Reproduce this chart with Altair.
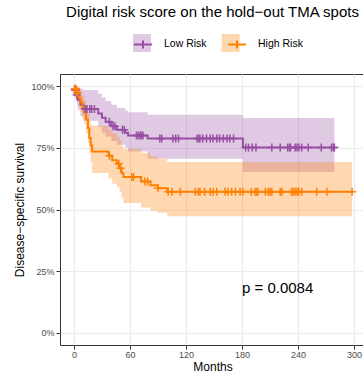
import altair as alt
import pandas as pd

# Kaplan-Meier estimates per risk group: step times (months), survival, CI bounds
GROUPS = ["Low Risk", "High Risk"]
LINE_COLORS = ["#984EA3", "#FF7F00"]

LOW_T = [0, 1, 3, 4, 7, 10, 26, 30, 34, 40, 46, 55, 58, 79, 181]
LOW_S = [1.0, 0.985, 0.965, 0.944, 0.925, 0.908, 0.89, 0.872, 0.856, 0.838, 0.824, 0.812, 0.80, 0.788, 0.752]
LOW_UP = [1.0, 1.0, 1.0, 0.995, 0.99, 0.985, 0.97, 0.955, 0.94, 0.925, 0.912, 0.902, 0.895, 0.885, 0.871]
LOW_LO = [1.0, 0.955, 0.93, 0.905, 0.88, 0.86, 0.835, 0.812, 0.795, 0.778, 0.763, 0.75, 0.735, 0.706, 0.652]
LOW_END = 279
LOW_CENSOR = [1, 2, 3, 12, 14, 17, 19, 22, 38, 42, 44, 52, 54, 67, 69, 71, 72, 74,
              92, 94, 106, 109, 112, 132, 134, 135, 138, 142, 146, 149, 153, 156,
              160, 164, 167, 171, 184, 187, 191, 195, 212, 221, 229, 231, 232, 237,
              239, 241, 244, 251, 265, 276, 278, 279]

HIGH_T = [0, 1, 3, 5, 7, 9, 11, 13, 15, 16.5, 18, 19.5, 37, 41, 46, 49, 51, 53, 72, 82, 90, 100]
HIGH_S = [1.0, 0.99, 0.975, 0.955, 0.935, 0.915, 0.895, 0.865, 0.83, 0.79, 0.76, 0.735,
          0.718, 0.70, 0.686, 0.667, 0.648, 0.632, 0.614, 0.598, 0.586, 0.572]
HIGH_UP = [1.0, 1.0, 1.0, 0.99, 0.975, 0.96, 0.945, 0.92, 0.89, 0.86, 0.845, 0.84,
           0.825, 0.81, 0.795, 0.78, 0.76, 0.745, 0.73, 0.715, 0.705, 0.693]
HIGH_LO = [1.0, 0.97, 0.945, 0.92, 0.895, 0.87, 0.845, 0.81, 0.77, 0.725, 0.69, 0.648,
           0.626, 0.605, 0.59, 0.573, 0.548, 0.526, 0.508, 0.495, 0.487, 0.473]
HIGH_END = 298
HIGH_CENSOR = [1, 2, 3, 4, 38, 48, 50, 62, 64, 76, 79, 90, 101, 105, 114, 130, 133, 135,
               140, 146, 149, 153, 162, 165, 169, 173, 178, 181, 190, 194, 196, 197, 205,
               208, 210, 212, 221, 223, 233, 235, 237, 239, 241, 244, 260, 271, 298]

P_VALUE = "0.0084"
MONTH_TICKS = [0, 30, 60, 90, 120, 150, 180, 210, 240, 270, 300]
SURV_TICKS = [0, 0.125, 0.25, 0.375, 0.5, 0.625, 0.75, 0.875, 1.0]

FONT = "Liberation Sans"
# ribbon groups carry an invisible suffix so their legend stays separate from the line legend
BAND_SUFFIX = "\u200b"
BAND_GROUPS = [g + BAND_SUFFIX for g in GROUPS]


def step_rows(group, times, surv, upper, lower, end):
    rows = [dict(grp=group, band=group + BAND_SUFFIX, time=t, surv=s, upper=u, lower=l)
            for t, s, u, l in zip(times, surv, upper, lower)]
    rows.append(dict(grp=group, band=group + BAND_SUFFIX, time=end, surv=surv[-1],
                     upper=upper[-1], lower=lower[-1]))
    return rows


def surv_at(t, times, surv):
    value = surv[0]
    for tt, s in zip(times, surv):
        if tt <= t:
            value = s
    return value


curves = pd.DataFrame(
    step_rows("Low Risk", LOW_T, LOW_S, LOW_UP, LOW_LO, LOW_END)
    + step_rows("High Risk", HIGH_T, HIGH_S, HIGH_UP, HIGH_LO, HIGH_END)
)

censored = pd.DataFrame(
    [dict(grp="Low Risk", time=t, surv=surv_at(t, LOW_T, LOW_S)) for t in LOW_CENSOR]
    + [dict(grp="High Risk", time=t, surv=surv_at(t, HIGH_T, HIGH_S)) for t in HIGH_CENSOR]
)

pval = pd.DataFrame({"label": [f"p = {P_VALUE}"]})

x_axis = alt.Axis(
    values=MONTH_TICKS,
    labelExpr="datum.value % 60 === 0 ? datum.label : ''",
    tickOpacity={"condition": {"test": "datum.value % 60 === 0", "value": 1}, "value": 0},
    gridWidth={"condition": {"test": "datum.value % 60 === 0", "value": 1.2}, "value": 0.6},
    gridColor="#EBEBEB",
    domain=False,
    tickColor="#333333",
    tickSize=4,
    labelColor="#4D4D4D",
    labelFontSize=9,
    labelFont=FONT,
    labelPadding=1,
    titleFont=FONT,
    titleFontSize=12,
    titleFontWeight="normal",
    titleColor="black",
    titlePadding=2,
)

major_y = "abs(datum.value * 4 - round(datum.value * 4)) < 0.001"
y_axis = alt.Axis(
    values=SURV_TICKS,
    labelExpr=f"{major_y} ? format(datum.value, '.0%') : ''",
    tickOpacity={"condition": {"test": major_y, "value": 1}, "value": 0},
    gridWidth={"condition": {"test": major_y, "value": 1.2}, "value": 0.6},
    gridColor="#EBEBEB",
    domain=False,
    tickColor="#333333",
    tickSize=4,
    labelColor="#4D4D4D",
    labelFontSize=9,
    labelFont=FONT,
    labelPadding=2,
    titleFont=FONT,
    titleFontSize=12,
    titleFontWeight="normal",
    titleColor="black",
    titlePadding=4,
)

x_scale = alt.Scale(domain=[-14.9, 311.8], nice=False, zero=False)
y_scale = alt.Scale(domain=[-0.05, 1.05], nice=False, zero=False)
color_scale = alt.Scale(domain=GROUPS, range=LINE_COLORS)
band_scale = alt.Scale(domain=BAND_GROUPS, range=LINE_COLORS)

X = alt.X("time:Q", scale=x_scale, axis=x_axis, title="Months")
Y_TITLE = "Disease−specific survival"

legend_common = dict(
    orient="none",
    legendX=73,
    legendY=-40,
    direction="horizontal",
    symbolSize=324,
    labelFont=FONT,
    labelFontSize=10.5,
    labelColor="black",
    padding=0,
    title=None,
)

# key backgrounds: shaded squares without labels, spaced to sit under the line keys
bands = alt.Chart(curves).mark_area(interpolate="step-after", opacity=0.3).encode(
    x=X,
    y=alt.Y("lower:Q", scale=y_scale, axis=y_axis, title=Y_TITLE),
    y2="upper:Q",
    fill=alt.Fill(
        "band:N",
        scale=band_scale,
        legend=alt.Legend(
            symbolType="square",
            symbolOpacity=0.3,
            symbolStrokeWidth=0,
            labelExpr="''",
            labelOffset=0,
            columnPadding=70.6,
            **legend_common,
        ),
    ),
)

stroke_legend = alt.Legend(
    symbolType="M-1,0H1M0,-0.45V0.45",
    symbolStrokeWidth=2,
    symbolFillColor="transparent",
    labelOffset=11,
    columnPadding=17,
    **legend_common,
)

lines = alt.Chart(curves).mark_line(interpolate="step-after", strokeWidth=2).encode(
    x=X,
    y=alt.Y("surv:Q", scale=y_scale, title=Y_TITLE),
    stroke=alt.Stroke("grp:N", scale=color_scale, legend=stroke_legend),
)

ticks = alt.Chart(censored).mark_point(
    shape="M0,-1V1M-1,0H1", size=64, filled=False, strokeWidth=1.5, opacity=1
).encode(
    x=X,
    y=alt.Y("surv:Q", scale=y_scale, title=Y_TITLE),
    stroke=alt.Stroke("grp:N", scale=color_scale, legend=stroke_legend),
)

ptext = alt.Chart(pval).mark_text(
    align="left", baseline="middle", font=FONT, fontSize=15, color="black"
).encode(x=alt.datum(180), y=alt.datum(0.183), text="label:N")

chart = (
    alt.layer(bands, lines, ticks, ptext)
    .properties(
        width=305,
        height=271,
        autosize="none",
        padding={"left": 60, "top": 74, "right": -2, "bottom": 32},
        title=alt.Title(
            "Digital risk score on the hold−out TMA spots",
            font=FONT,
            fontSize=15,
            fontWeight="normal",
            color="black",
            anchor="middle",
            frame="group",
            offset=14,
        ),
    )
    .configure_view(stroke="#333333", strokeWidth=1)
)

chart.save("out.html", embed_options={"renderer": "svg", "actions": False})
